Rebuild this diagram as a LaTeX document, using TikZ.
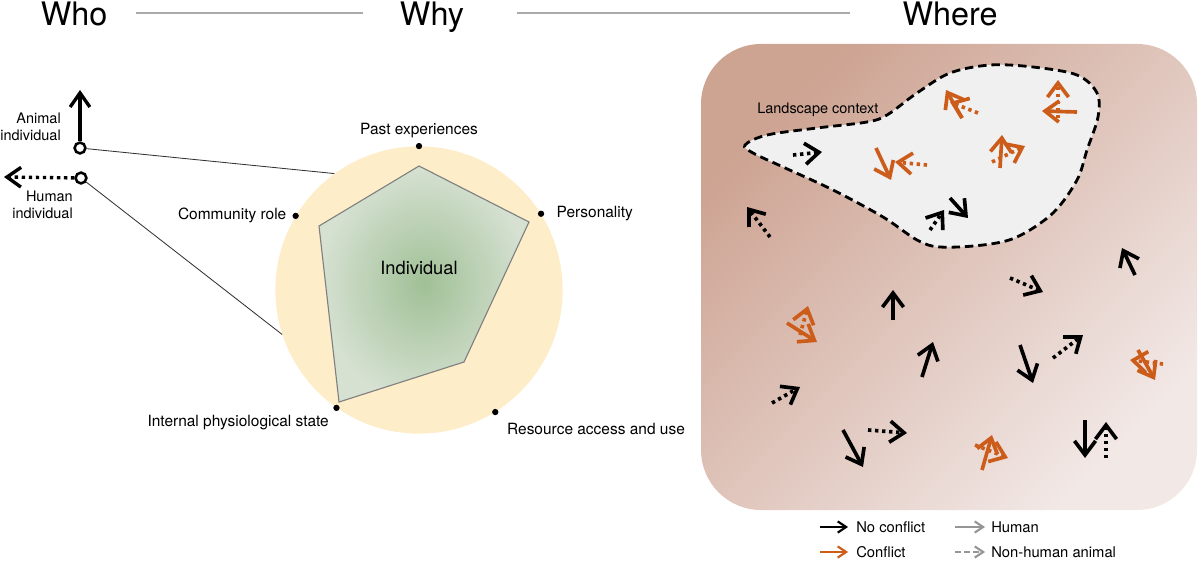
\documentclass[tikz,border=0pt]{standalone}
\usepackage{fontspec}
\setmainfont{TeX Gyre Heros}
\usetikzlibrary{arrows.meta, positioning, calc}
\definecolor{whybg}{RGB}{253,237,200}
\definecolor{indgreen}{RGB}{160,192,150}
\definecolor{indedge}{RGB}{214,225,210}
\definecolor{conflict}{RGB}{204,92,26}
\definecolor{landtop}{RGB}{205,163,146}
\definecolor{landbot}{RGB}{242,232,230}
\definecolor{blobfill}{RGB}{240,240,240}
\definecolor{rulegrey}{RGB}{170,170,170}
\definecolor{keygrey}{RGB}{150,150,150}

\tikzset{
  title/.style={anchor=base, font=\fontsize{23}{26}\selectfont},
  titlerule/.style={rulegrey, line width=1.4pt},
  small/.style={font=\fontsize{10.3}{12}\selectfont},
  axisdot/.style={circle, fill=black, inner sep=0pt, minimum size=4.5pt},
  axislabel/.style={inner sep=1pt, font=\fontsize{11}{13}\selectfont},
  hollowdot/.style={circle, draw, line width=1.8pt, fill=white, inner sep=0pt, minimum size=0.27cm},
  whoarrow/.style={line width=2.4pt, -{Straight Barb[length=10pt, width=14pt]}},
  link/.style={line width=0.6pt, black!80},
  dotline/.style={dash pattern=on 2.4pt off 2.6pt},
  glyph/.style={line width=2.6pt, -{Straight Barb[length=10pt, width=15pt]}},
  blob/.style={draw, fill=blobfill, line width=2pt, dash pattern=on 6pt off 3.5pt},
  keyarrow/.style={line width=1.5pt, -{Straight Barb[length=6pt, width=8pt]}},
  keytext/.style={anchor=west, inner sep=0pt, font=\fontsize{10.5}{12}\selectfont}
}

\begin{document}
\begin{tikzpicture}[x=0.025cm, y=-0.025cm]
\useasboundingbox (0,0) rectangle (1200,565);

% Headings
\node[title] (who) at (74,26) {Who};
\node[title] (why) at (432,26) {Why};
\node[title] (where) at (950,26) {Where};
\draw[titlerule] (136,13) -- (363,13);
\draw[titlerule] (517,13) -- (850,13);

% Who
\node[hollowdot] (animal) at (80,148) {};
\node[hollowdot] (human) at (81,178) {};
\coordinate (animaltip) at (80,90);
\coordinate (humantip) at (4,177);
\draw[whoarrow] (animal) -- (animaltip);
\draw[whoarrow, dotline] (human) -- (humantip);
\node[small, align=right, anchor=east, inner sep=0pt] (animallab) at (61,127) {Animal\\individual};
\node[small, align=right, anchor=east, inner sep=0pt] (humanlab) at (73,205) {Human\\individual};

% Why
\node[circle, fill=whybg, minimum size=7.18cm, inner sep=0pt] (wheel) at (419,290) {};
\draw[link] (animal) -- (wheel.126.8);
\draw[link] (human) -- (wheel.198.7);
\shadedraw[inner color=indgreen, outer color=indedge, draw=black!50, line width=0.8pt]
  (419,166) -- (529,222) -- (464,362) -- (339,402) -- (319,226) -- cycle;
\node[font=\fontsize{13}{15}\selectfont] (ind) at (419,268) {Individual};
\foreach \ang/\nm in {90/past, 32.6/pers, 149/comm, 235/phys, 302/res}
  \node[axisdot] (\nm) at (wheel.\ang) {};
\node[axislabel, above=2.5pt of past] (pastlab) {Past experiences};
\node[axislabel, right=7.5pt of pers] (perslab) {Personality};
\node[axislabel, left=3pt of comm] (commlab) {Community role};
\node[axislabel, below left=2pt and 2.5pt of phys] (physlab) {Internal physiological state};
\node[axislabel, below right=5pt and 5.5pt of res] (reslab) {Resource access and use};

% Where
\shade[top color=landtop, bottom color=landbot, shading angle=45, rounded corners=1.5cm]
  (701,44) rectangle (1197,510);
\path[blob] plot[smooth cycle, tension=0.55] coordinates {
  (745,145) (767,135) (817,128) (867,122) (887,115) (917,93) (950,73) (990,65)
  (1033,67) (1077,75) (1097,93) (1098,117) (1087,150) (1077,180) (1053,213)
  (1017,237) (983,245) (940,247) (917,240) (883,217) (833,190) (783,167) (753,153)};
\node[small, anchor=west, inner sep=0pt] (landlab) at (757,110) {Landscape context};

% no conflict
\foreach \xa/\ya/\xb/\yb in {950/198/968/218, 1135/275/1122/248, 893/320/893/290,
    922/377/933/342, 1020/345/1033/383, 843/430/863/467, 1085/420/1085/458}
  \draw[glyph] (\xa,\ya) -- (\xb,\yb);
\foreach \xa/\ya/\xb/\yb in {793/155/822/152, 930/230/944/210, 770/237/747/207,
    1010/278/1043/292, 1053/358/1083/335, 772/403/800/387, 868/430/907/433, 1106/458/1106/422}
  \draw[glyph, dotline] (\xa,\ya) -- (\xb,\yb);
% conflict
\foreach \xa/\ya/\xb/\yb in {876/148/891/180, 962/118/946/90, 1077/112/1042/111,
    1000/168/1002/135, 787/323/817/342, 1138/350/1155/380, 982/470/992/435}
  \draw[glyph, conflict] (\xa,\ya) -- (\xb,\yb);
\foreach \xa/\ya/\xb/\yb in {927/165/895/162, 978/113/950/102, 1058/118/1058/80,
    992/162/1025/146, 800/335/808/306, 1163/364/1130/360, 975/445/1008/458}
  \draw[glyph, dotline, conflict] (\xa,\ya) -- (\xb,\yb);

% Legend
\node[keytext] (nocon) at (856,527) {No conflict};
\node[keytext] (humankey) at (991,527) {Human};
\node[keytext] (con) at (856,552) {Conflict};
\node[keytext] (animalkey) at (991,552) {Non-human animal};
\draw[keyarrow] ($(nocon.west)+(-36,0)$) -- ($(nocon.west)+(-8,0)$);
\draw[keyarrow, keygrey] ($(humankey.west)+(-36,0)$) -- ($(humankey.west)+(-6,0)$);
\draw[keyarrow, conflict] ($(con.west)+(-36,0)$) -- ($(con.west)+(-8,0)$);
\draw[keyarrow, keygrey, dash pattern=on 4pt off 2.5pt] ($(animalkey.west)+(-36,0)$) -- ($(animalkey.west)+(-6,0)$);
\end{tikzpicture}
\end{document}
